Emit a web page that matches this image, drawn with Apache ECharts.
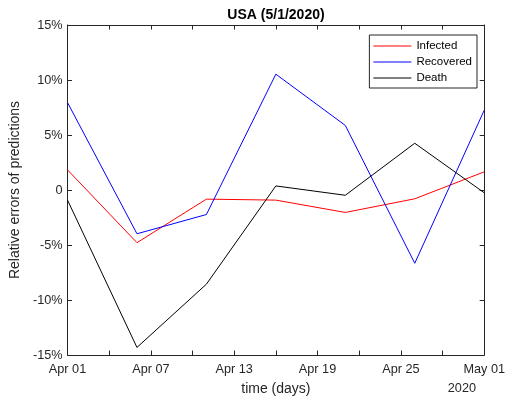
<!DOCTYPE html>
<html>
<head>
<meta charset="utf-8">
<script src="https://cdn.jsdelivr.net/npm/echarts@6/dist/echarts.min.js"></script>
<style>html,body{margin:0;padding:0;background:#fff}#c{width:508px;height:401px}</style>
</head>
<body>
<div id="c"></div>
<script>
const dates = ['2020-04-01','2020-04-06','2020-04-11','2020-04-16','2020-04-21','2020-04-26','2020-05-01'];
const infected = [1.83, -4.79, -0.83, -0.92, -2.04, -0.80, 1.65];
const recovered = [7.95, -3.98, -2.23, 10.53, 5.87, -6.66, 7.25];
const death = [-0.92, -14.31, -8.56, 0.37, -0.48, 4.25, -0.25];
const seriesNames = ['Infected', 'Recovered', 'Death'];
const yTicks = [-15, -10, -5, 0, 5, 10, 15];
const titleText = 'USA (5/1/2020)';
const yearLabel = '2020';
const monthNames = ['Jan','Feb','Mar','Apr','May','Jun','Jul','Aug','Sep','Oct','Nov','Dec'];

const DAY = 86400000;
const base = Date.parse(dates[0] + 'T00:00:00Z');
const dayOf = d => Math.round((Date.parse(d + 'T00:00:00Z') - base) / DAY);
const xs = dates.map(dayOf);
const span = xs[xs.length - 1];
const pairs = arr => arr.map((v, i) => [xs[i], v]);
const fmtDay = v => {
  if (v % 6 !== 0) return '';
  const d = new Date(base + v * DAY);
  return monthNames[d.getUTCMonth()] + ' ' + String(d.getUTCDate()).padStart(2, '0');
};

const AX = '#262626';
const FONT = '"Liberation Sans", Arial, Helvetica, sans-serif';
const chart = echarts.init(document.getElementById('c'), null, {renderer: 'canvas'});
const axisCommon = () => ({
  axisLine: {show: true, onZero: false, lineStyle: {color: AX, width: 1}},
  axisTick: {show: true, inside: true, length: 4.5, lineStyle: {color: AX, width: 1}},
  splitLine: {show: false}
});
chart.setOption({
  animation: false,
  textStyle: {fontFamily: FONT},
  title: {
    text: titleText, left: 276, top: 8, padding: 0, textAlign: 'center',
    textStyle: {fontFamily: FONT, fontSize: 14, fontWeight: 'bold', color: '#000'}
  },
  legend: {
    data: seriesNames, orient: 'vertical', right: 31, top: 35,
    icon: 'rect', itemWidth: 38, itemHeight: 1.2, itemGap: 0,
    padding: [3, 5, 2, 4],
    backgroundColor: '#fff', borderColor: AX, borderWidth: 1,
    textStyle: {fontFamily: FONT, fontSize: 11.5, color: '#000', lineHeight: 16}
  },
  grid: {left: 66, right: 21, top: 25, bottom: 45, containLabel: false},
  xAxis: [
    Object.assign(axisCommon(), {
      type: 'value', min: 0, max: span, interval: 3, position: 'bottom',
      name: 'time (days)', nameLocation: 'middle', nameGap: 27,
      nameTextStyle: {fontFamily: FONT, fontSize: 14, color: AX},
      axisLabel: {formatter: fmtDay, margin: 8, fontFamily: FONT, fontSize: 12.7, color: AX, showMinLabel: true, showMaxLabel: true}
    }),
    Object.assign(axisCommon(), {
      type: 'value', min: 0, max: span, interval: 3, position: 'top',
      axisLabel: {show: false}
    })
  ],
  yAxis: [
    Object.assign(axisCommon(), {
      type: 'value', min: yTicks[0], max: yTicks[yTicks.length - 1], interval: 5, position: 'left',
      name: 'Relative errors of predictions', nameLocation: 'middle', nameGap: 33,
      nameTextStyle: {fontFamily: FONT, fontSize: 14, color: AX},
      axisLabel: {formatter: v => v === 0 ? '0' : v + '%', margin: 5, fontFamily: FONT, fontSize: 12.7, color: AX}
    }),
    Object.assign(axisCommon(), {
      type: 'value', min: yTicks[0], max: yTicks[yTicks.length - 1], interval: 5, position: 'right',
      axisLabel: {show: false}
    })
  ],
  graphic: [{
    type: 'text', right: 32, top: 382,
    style: {text: yearLabel, fontFamily: FONT, fontSize: 12.7, fill: AX}
  }],
  series: [
    {name: seriesNames[0], type: 'line', data: pairs(infected), symbol: 'none', lineStyle: {color: '#ff0000', width: 1}, itemStyle: {color: '#ff0000'}},
    {name: seriesNames[1], type: 'line', data: pairs(recovered), symbol: 'none', lineStyle: {color: '#0000ff', width: 1}, itemStyle: {color: '#0000ff'}},
    {name: seriesNames[2], type: 'line', data: pairs(death), symbol: 'none', lineStyle: {color: '#000000', width: 1}, itemStyle: {color: '#000000'}}
  ]
});
</script>
</body>
</html>
